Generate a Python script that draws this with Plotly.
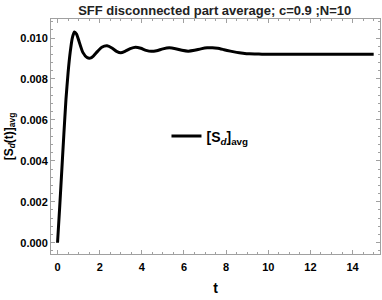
import plotly.graph_objects as go

t_vals = [0, 0.1, 0.2, 0.3, 0.4, 0.5, 0.6, 0.7, 0.8, 0.9, 1.0, 1.2, 1.4, 1.55, 1.7, 1.9,
          2.1, 2.35, 2.6, 2.8, 3.0, 3.2, 3.45, 3.7, 3.95, 4.2, 4.45, 4.7, 5.0, 5.3, 5.6,
          5.9, 6.2, 6.5, 6.8, 7.1, 7.35, 7.6, 7.9, 8.2, 8.5, 8.8, 9.1, 9.4, 9.7, 10,
          11, 12, 13, 14, 15]
s_avg = [0.0, 0.0017, 0.0035, 0.0053, 0.0070, 0.0083, 0.0093, 0.0100, 0.0103, 0.0102,
         0.0099, 0.0093, 0.00905, 0.00902, 0.00912, 0.00935, 0.00955, 0.00962, 0.00950,
         0.00935, 0.00928, 0.00935, 0.00948, 0.00955, 0.00950, 0.00940, 0.00935, 0.00938,
         0.00947, 0.00952, 0.00948, 0.00940, 0.00936, 0.00940, 0.00947, 0.00952, 0.00953,
         0.00950, 0.00943, 0.00936, 0.00930, 0.00926, 0.00923, 0.00922, 0.00921, 0.00921,
         0.00921, 0.00921, 0.00921, 0.00921, 0.00921]

title_text = "SFF disconnected part average; c=0.9 ;N=10"
x_label = "t"
y_label = "[S<sub><i>d</i></sub>(t)]<sub>avg</sub>"
legend_label = "[S<sub><i>d</i></sub>]<sub>avg</sub>"

FONT = "Liberation Sans, Arial, sans-serif"

fig = go.Figure()
fig.add_trace(go.Scatter(x=t_vals, y=s_avg, mode="lines", name=legend_label,
                         line=dict(color="black", width=3, shape="spline", smoothing=0.5)))

axis_common = dict(showgrid=False, zeroline=False, showline=True, linecolor="#a0a0a0",
                   linewidth=1, mirror="allticks", ticks="inside", ticklen=4,
                   tickcolor="#a0a0a0", automargin=False,
                   tickfont=dict(family=FONT, size=11, color="black", weight="bold"))

fig.update_xaxes(range=[-0.31, 15.3], dtick=2, tick0=0, ticklabelstandoff=3,
                 minor=dict(ticks="inside", ticklen=2, dtick=0.5, tickcolor="#a0a0a0"),
                 title=dict(text="<b>" + x_label + "</b>", font=dict(family=FONT, size=14, color="black"), standoff=10),
                 **axis_common)
fig.update_yaxes(range=[-0.00055, 0.01093], dtick=0.002, tick0=0, tickformat=".3f",
                 minor=dict(ticks="inside", ticklen=2, dtick=0.0004, tickcolor="#a0a0a0"),
                 title=dict(text="<b>" + y_label + "</b>", font=dict(family=FONT, size=12, color="black"), standoff=4),
                 **axis_common)

fig.update_layout(
    width=382, height=300,
    margin=dict(l=51, r=2, t=19, b=46, autoexpand=False),
    paper_bgcolor="white", plot_bgcolor="white",
    font=dict(family=FONT, size=11, color="black", weight="bold"),
    title=dict(text="<b>" + title_text + "</b>", x=0.562, xanchor="center",
               yref="container", y=0.966, yanchor="middle",
               font=dict(family=FONT, size=13, color="#222222")),
    legend=dict(x=0.351, y=0.5, xanchor="left", yanchor="middle", bgcolor="rgba(0,0,0,0)",
                font=dict(family=FONT, size=14, color="black")),
    showlegend=True,
)

fig.write_html("out.html", config={"displayModeBar": False},
               post_script="document.body.style.margin='0px';")
